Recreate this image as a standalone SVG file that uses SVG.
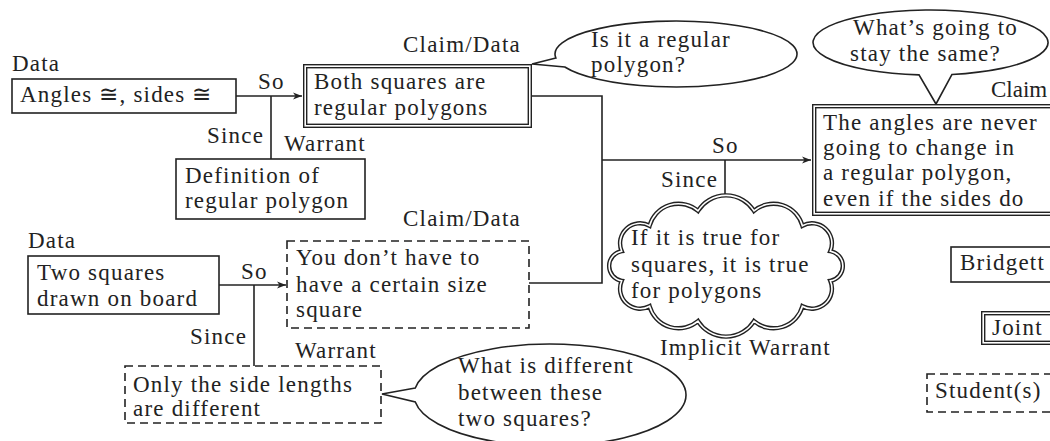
<svg xmlns="http://www.w3.org/2000/svg" width="1050" height="441" viewBox="0 0 1050 441">
<style>
text{font-family:"Liberation Serif","DejaVu Serif",serif;font-size:23px;letter-spacing:1.2px;fill:#222}
.box{fill:#fff;stroke:#222;stroke-width:1.6}
.dash{fill:#fff;stroke:#222;stroke-width:1.6;stroke-dasharray:8 5}
.dblo{fill:#fff;stroke:#222;stroke-width:4.4}
.dbli{fill:none;stroke:#fff;stroke-width:1.6}
.bub{fill:#fff;stroke:#222;stroke-width:1.6;stroke-linejoin:miter}
.con{fill:none;stroke:#222;stroke-width:1.6}
</style>
<defs>
<marker id="arr" markerWidth="10" markerHeight="8" refX="9" refY="4" orient="auto" markerUnits="userSpaceOnUse">
<path d="M0,0.5 L9,4 L0,7.5 L2.5,4 Z" fill="#222"/>
</marker>
</defs>
<rect width="1050" height="441" fill="#fff"/>

<g id="connectors">
<path class="con" d="M236,96 H302" marker-end="url(#arr)"/>
<path class="con" d="M271,96 V159"/>
<path class="con" d="M532,96 H602 V283 H529"/>
<path class="con" d="M602,160 H811" marker-end="url(#arr)"/>
<path class="con" d="M725,160 V196"/>
<path class="con" d="M219,285 H286" marker-end="url(#arr)"/>
<path class="con" d="M254,285 V366"/>
</g>

<g id="labels">
<text x="12" y="71">Data</text>
<text x="258" y="89">So</text>
<text x="207" y="143">Since</text>
<text x="284" y="151">Warrant</text>
<text x="403" y="52">Claim/Data</text>
<text x="712" y="153">So</text>
<text x="661" y="187">Since</text>
<text x="991" y="97" style="letter-spacing:0">Claim</text>
<text x="28" y="248">Data</text>
<text x="241" y="279">So</text>
<text x="190" y="344">Since</text>
<text x="295" y="358">Warrant</text>
<text x="403" y="226">Claim/Data</text>
<text x="660" y="355">Implicit Warrant</text>
</g>

<g id="n-angles">
<rect class="box" x="12" y="79" width="224" height="34"/>
<text x="20" y="102">Angles ≅, sides ≅</text>
</g>

<g id="n-definition">
<rect class="box" x="176" y="159" width="189" height="60"/>
<text x="185" y="183">Definition of</text>
<text x="185" y="208">regular polygon</text>
</g>

<g id="n-both">
<rect class="dblo" x="305.2" y="66.2" width="224.6" height="59.6"/>
<rect class="dbli" x="305.2" y="66.2" width="224.6" height="59.6"/>
<text x="314" y="89">Both squares are</text>
<text x="314" y="115">regular polygons</text>
</g>

<g id="b-regular">
<path class="bub" d="M555.9,58 L532,64 L564.8,67 A121,33 0 1 0 555.9,58 Z"/>
<text x="591" y="47">Is it a regular</text>
<text x="591" y="72">polygon?</text>
</g>

<g id="b-same">
<path class="bub" d="M952,74.45 L936,104 L919,74.84 A117.5,32.5 0 1 1 952,74.45 Z"/>
<text x="853" y="35">What’s going to</text>
<text x="850" y="61">stay the same?</text>
</g>

<g id="n-claim">
<rect class="dblo" x="814.2" y="106.2" width="260" height="107.6"/>
<rect class="dbli" x="814.2" y="106.2" width="260" height="107.6"/>
<text x="823" y="130">The angles are never</text>
<text x="823" y="155">going to change in</text>
<text x="823" y="180">a regular polygon,</text>
<text x="823" y="206">even if the sides do</text>
</g>

<g id="n-cloud">
<path class="dblo" d="M698,210.9 A33,33 0 0 1 754,210.9 A30,30 0 0 1 802.4,225.7 A20,20 0 0 1 830.3,251.2 A15,15 0 0 1 830.3,280.8 A20,20 0 0 1 802.4,306.3 A30,30 0 0 1 754,321.1 A33,33 0 0 1 698,321.1 A30,30 0 0 1 649.6,306.3 A20,20 0 0 1 621.7,280.8 A15,15 0 0 1 621.7,251.2 A20,20 0 0 1 649.6,225.7 A30,30 0 0 1 698,210.9 Z"/>
<path class="dbli" d="M698,210.9 A33,33 0 0 1 754,210.9 A30,30 0 0 1 802.4,225.7 A20,20 0 0 1 830.3,251.2 A15,15 0 0 1 830.3,280.8 A20,20 0 0 1 802.4,306.3 A30,30 0 0 1 754,321.1 A33,33 0 0 1 698,321.1 A30,30 0 0 1 649.6,306.3 A20,20 0 0 1 621.7,280.8 A15,15 0 0 1 621.7,251.2 A20,20 0 0 1 649.6,225.7 A30,30 0 0 1 698,210.9 Z"/>
<text x="631" y="245">If it is true for</text>
<text x="631" y="272">squares, it is true</text>
<text x="631" y="298">for polygons</text>
</g>

<g id="n-two">
<rect class="box" x="28" y="256" width="191" height="58"/>
<text x="37" y="280">Two squares</text>
<text x="37" y="306">drawn on board</text>
</g>

<g id="n-size">
<rect class="dash" x="287" y="241" width="242" height="87"/>
<text x="296" y="265">You don’t have to</text>
<text x="296" y="292">have a certain size</text>
<text x="296" y="317">square</text>
</g>

<g id="n-only">
<rect class="dash" x="125" y="366" width="256" height="57"/>
<text x="133" y="392">Only the side lengths</text>
<text x="133" y="416">are different</text>
</g>

<g id="b-different">
<path class="bub" d="M415.3,388 L382,394 L415.3,402 A136,51 0 1 0 415.3,388 Z"/>
<text x="458" y="373">What is different</text>
<text x="458" y="400">between these</text>
<text x="458" y="426">two squares?</text>
</g>

<g id="legend-bridgett">
<rect class="box" x="951" y="247" width="120" height="35"/>
<text x="960" y="270">Bridgett</text>
</g>
<g id="legend-joint">
<rect class="dblo" x="983.2" y="313.2" width="90" height="29.6"/>
<rect class="dbli" x="983.2" y="313.2" width="90" height="29.6"/>
<text x="992" y="335">Joint</text>
</g>
<g id="legend-student">
<rect class="dash" x="927" y="374" width="140" height="38"/>
<text x="935" y="398">Student(s)</text>
</g>
</svg>
